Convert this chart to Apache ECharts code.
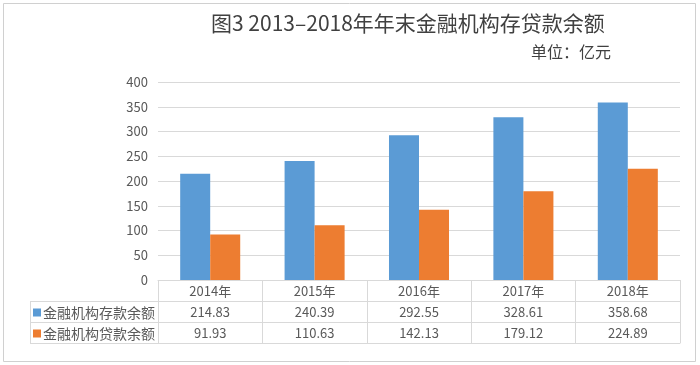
<!DOCTYPE html>
<html><head><meta charset="utf-8">
<script src="https://cdn.jsdelivr.net/npm/echarts@6/dist/echarts.min.js"></script>
<style>html,body{margin:0;padding:0;background:#fff}#c{width:700px;height:365px}</style>
</head><body><div id="c"></div>
<script>
const titleText = '图3 2013–2018年年末金融机构存贷款余额';
const subText = '单位：亿元';
const categories = ['2014年','2015年','2016年','2017年','2018年'];
const seriesNames = ['金融机构存款余额','金融机构贷款余额'];
const deposits = [214.83, 240.39, 292.55, 328.61, 358.68];
const loans = [91.93, 110.63, 142.13, 179.12, 224.89];
const yTicks = {min:0, max:400, interval:50};

const FONT = '"Noto Sans CJK SC", "Noto Sans", sans-serif';
const TXT = '#595959';
const LINE = '#d9d9d9';
const G = {left:158, right:20, top:82, bottom:85};
const ROW = 21;
const W = 700, H = 365;
const axisBottom = H - G.bottom;
const legendLeft = 30;

const chart = echarts.init(document.getElementById('c'), null, {renderer:'canvas'});

function tableAxis(labels, idx, showLabel) {
  return {
    type:'category', data:labels, gridIndex:0, position:'bottom', offset: ROW*idx,
    axisLine:{show:true, lineStyle:{color:LINE, width:1}},
    axisTick:{show: idx===0, length: ROW*3, lineStyle:{color:LINE}},
    axisLabel:{show:showLabel, color:TXT, fontSize:13, fontFamily:FONT, margin:5, interval:0},
    splitLine:{show:false}
  };
}

const fmt = a => a.map(v => v.toFixed(2));

chart.setOption({
  backgroundColor:'#fff',
  animation:false,
  textStyle:{fontFamily:FONT},
  title:[
    {text:titleText, left:206, top:8,
     textStyle:{fontSize:21, fontWeight:'normal', color:'#404040', fontFamily:FONT}},
    {text:subText, right:W-616, top:39,
     textStyle:{fontSize:16, fontWeight:'normal', color:'#404040', fontFamily:FONT}}
  ],
  legend:{
    orient:'vertical', left:legendLeft+3, top:axisBottom+ROW+1, itemGap:0,
    itemWidth:8, itemHeight:8, icon:'rect', data:seriesNames,
    textStyle:{fontSize:14, color:TXT, lineHeight:ROW, height:ROW, fontFamily:FONT, padding:[0,0,0,-3]},
    padding:0, selectedMode:false
  },
  grid:{left:G.left, right:G.right, top:G.top, bottom:G.bottom},
  xAxis:[
    tableAxis(categories, 0, true),
    tableAxis(fmt(deposits), 1, true),
    tableAxis(fmt(loans), 2, true),
    tableAxis(categories, 3, false)
  ],
  yAxis:{
    type:'value', min:yTicks.min, max:yTicks.max, interval:yTicks.interval,
    axisLine:{show:false}, axisTick:{show:false},
    axisLabel:{color:TXT, fontSize:13, margin:10, fontFamily:FONT},
    splitLine:{lineStyle:{color:LINE}}
  },
  series:[
    {name:seriesNames[0], type:'bar', data:deposits, xAxisIndex:0, barGap:'0%', barCategoryGap:'42.5%',
     itemStyle:{color:'#5B9BD5'}},
    {name:seriesNames[1], type:'bar', data:loans, xAxisIndex:0, barGap:'0%', barCategoryGap:'42.5%',
     itemStyle:{color:'#ED7D31'}}
  ],
  graphic:[
    {type:'rect', shape:{x:3.5, y:3.5, width:W-8, height:H-7}, style:{fill:null, stroke:'#d0d0d0', lineWidth:1}, silent:true},
    {type:'line', shape:{x1:legendLeft+0.5, y1:axisBottom+ROW+0.5, x2:legendLeft+0.5, y2:axisBottom+ROW*3+0.5}, style:{stroke:LINE, lineWidth:1}},
    {type:'line', shape:{x1:legendLeft, y1:axisBottom+ROW+0.5, x2:G.left, y2:axisBottom+ROW+0.5}, style:{stroke:LINE, lineWidth:1}},
    {type:'line', shape:{x1:legendLeft, y1:axisBottom+ROW*2+0.5, x2:G.left, y2:axisBottom+ROW*2+0.5}, style:{stroke:LINE, lineWidth:1}},
    {type:'line', shape:{x1:legendLeft, y1:axisBottom+ROW*3+0.5, x2:G.left, y2:axisBottom+ROW*3+0.5}, style:{stroke:LINE, lineWidth:1}}
  ]
});
</script></body></html>
